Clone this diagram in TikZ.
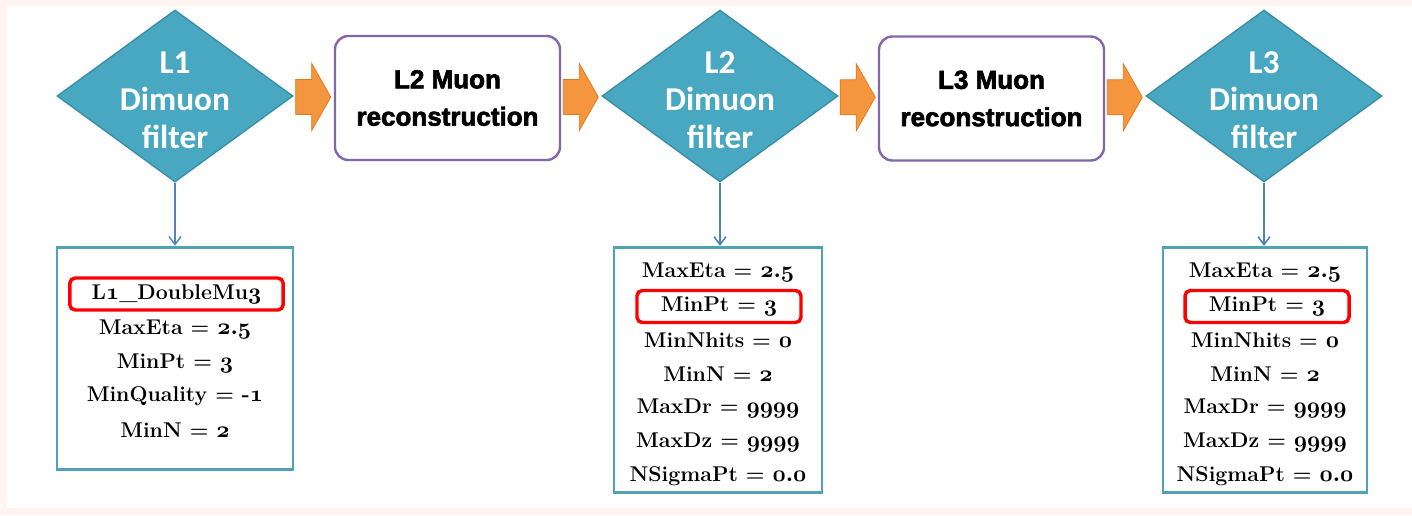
\documentclass[tikz,border=0pt]{standalone}
\usepackage{fontspec}
\usetikzlibrary{shapes.geometric,calc,arrows.meta}
\newfontfamily\diafont{Carlito}
\newfontfamily\boxfont{Liberation Sans Bold}[FakeBold=2.5]
\definecolor{pinkbg}{HTML}{FFF4F0}
\definecolor{diafill}{HTML}{48A8C2}
\definecolor{diadraw}{HTML}{3A8CA3}
\definecolor{boxdraw}{HTML}{8467A8}
\definecolor{orfill}{HTML}{F5963E}
\definecolor{ordraw}{HTML}{E07A1E}
\definecolor{parmdraw}{HTML}{4FA3B5}
\definecolor{conncol}{HTML}{4F81BD}
\newcommand{\os}[1]{{\boldmath$\mathnormal{#1}$}}
\tikzset{
  dia/.style={shape=diamond, fill=diafill, draw=diadraw, line width=1pt, inner sep=0pt,
    minimum width=177pt, minimum height=129pt},
  dialabel/.style={text=white, font=\diafont\bfseries\fontsize{25}{28}\selectfont, align=center},
  recobox/.style={rectangle, rounded corners=10pt, draw=boxdraw, fill=white, line width=1.8pt,
    minimum width=168.75pt, minimum height=93pt, align=center,
    font=\boxfont\fontsize{19.5}{28}\selectfont},
  parmbox/.style={rectangle, draw=parmdraw, line width=2.2pt, fill=white, inner sep=0pt},
  parmline/.style={font=\bfseries\fontsize{16}{18}\selectfont, inner sep=0pt, anchor=center},
  hl/.style={draw=red, line width=2.6pt, rounded corners=4pt, minimum height=24pt},
  conn/.style={draw=conncol, line width=1.1pt, -{Straight Barb[length=6pt,width=9pt]}},
  barrow/.pic={\filldraw[fill=orfill, draw=ordraw, line width=0.6pt]
      (-18,-17.5) -- (-2,-17.5) -- (-2,-33.5) -- (17,0) -- (-2,33.5) -- (-2,17.5) -- (-18,17.5) -- cycle;}
}
\begin{document}
\begin{tikzpicture}[x=0.75pt, y=-0.75pt]
  % background
  \fill[pinkbg] (0,0) rectangle (1412,515);
  \fill[white] (7,6) rectangle (1412,508);
  \useasboundingbox (0,0) rectangle (1412,515);

  % diamonds
  \node[dia, label={[dialabel, yshift=-3pt]center:L1\\Dimuon\\filter}] (d1) at (175,96) {};
  \node[dia, label={[dialabel, yshift=-3pt]center:L2\\Dimuon\\filter}] (d2) at (720,96) {};
  \node[dia, label={[dialabel, yshift=-3pt]center:L3\\Dimuon\\filter}] (d3) at (1264,96) {};

  % reconstruction boxes
  \node[recobox] (b1) at (447.5,98) {L2 Muon\\reconstruction};
  \node[recobox] (b2) at (991.5,98.5) {L3 Muon\\reconstruction};

  % block arrows
  \pic at ($(d1.east)!0.5!(b1.west)$) {barrow};
  \pic at ($(b1.east)!0.5!(d2.west)$) {barrow};
  \pic at ($(d2.east)!0.5!(b2.west)$) {barrow};
  \pic at ($(b2.east)!0.5!(d3.west)$) {barrow};

  % parameter boxes
  \node[parmbox, minimum width=177pt, minimum height=167pt] (p1) at (175,358.5) {};
  \node[parmbox, minimum width=156pt, minimum height=184pt] (p2) at (718,370) {};
  \node[parmbox, minimum width=153pt, minimum height=184pt] (p3) at (1265,370) {};

  % connectors
  \draw[conn] (d1.south) -- (d1.south |- p1.north);
  \draw[conn] (d2.south) -- (d2.south |- p2.north);
  \draw[conn] (d3.south) -- (d3.south |- p3.north);

  % box 1 lines
  \node[parmline, hl, minimum width=160pt] (p1a) at (176.5,294) {L\os{1}\_DoubleMu\os{3}};
  \node[parmline] (p1b) at (175,329) {MaxEta = \os{2.5}};
  \node[parmline] (p1c) at (175,363) {MinPt = \os{3}};
  \node[parmline] (p1d) at (175,396) {MinQuality = -\os{1}};
  \node[parmline] (p1e) at (175,430) {MinN = \os{2}};

  % box 2 lines
  \node[parmline] (p2a) at (718,272) {MaxEta = \os{2.5}};
  \node[parmline, hl, minimum width=123pt] (p2b) at (719,306.5) {MinPt = \os{3}};
  \node[parmline] (p2c) at (718,340) {MinNhits = \os{0}};
  \node[parmline] (p2d) at (718,374.5) {MinN = \os{2}};
  \node[parmline] (p2e) at (718,408.5) {MaxDr = \os{9999}};
  \node[parmline] (p2f) at (718,442.5) {MaxDz = \os{9999}};
  \node[parmline] (p2g) at (718,476) {NSigmaPt = \os{0.0}};

  % box 3 lines
  \node[parmline] (p3a) at (1265,272) {MaxEta = \os{2.5}};
  \node[parmline, hl, minimum width=123pt] (p3b) at (1267,306.5) {MinPt = \os{3}};
  \node[parmline] (p3c) at (1265,340) {MinNhits = \os{0}};
  \node[parmline] (p3d) at (1265,374.5) {MinN = \os{2}};
  \node[parmline] (p3e) at (1265,408.5) {MaxDr = \os{9999}};
  \node[parmline] (p3f) at (1265,442.5) {MaxDz = \os{9999}};
  \node[parmline] (p3g) at (1265,476) {NSigmaPt = \os{0.0}};
\end{tikzpicture}
\end{document}
